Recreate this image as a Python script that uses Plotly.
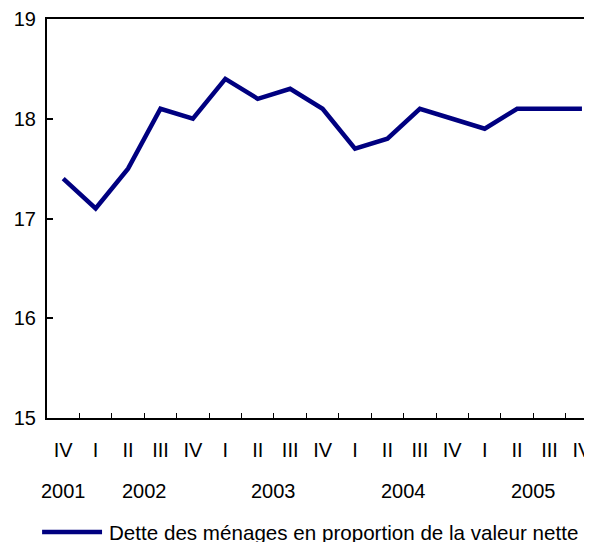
import plotly.graph_objects as go

quarters = ["IV", "I", "II", "III", "IV", "I", "II", "III", "IV",
            "I", "II", "III", "IV", "I", "II", "III", "IV"]
values = [17.4, 17.1, 17.5, 18.1, 18.0, 18.4, 18.2, 18.3, 18.1,
          17.7, 17.8, 18.1, 18.0, 17.9, 18.1, 18.1, 18.1]
years = ["2001", "2002", "2003", "2004", "2005"]
year_pos = [0, 2.5, 6.5, 10.5, 14.5]
y_ticks = [15, 16, 17, 18, 19]
series_name = "Dette des ménages en proportion de la valeur nette"
line_color = "#000080"

idx = list(range(len(values)))
bounds = [i + 0.5 for i in idx[:-1]]

fig = go.Figure()
fig.add_trace(go.Scatter(
    x=idx, y=values, mode="lines", name=series_name,
    line=dict(color=line_color, width=4.5),
))

font = dict(family="Liberation Sans, Arial, sans-serif", size=20, color="#000000")

# page body has an 8px default margin, so the figure is sized to fit the window
fig.update_layout(
    width=584, height=534,
    margin=dict(l=39, r=0, t=11, b=124, autoexpand=False),
    paper_bgcolor="white", plot_bgcolor="white",
    font=font,
    showlegend=False,
    xaxis=dict(
        range=[-0.5, 16.31], showgrid=False, zeroline=False, automargin=False,
        showline=True, linecolor="black", linewidth=2, mirror=True,
        tickmode="array", tickvals=idx, ticktext=quarters,
        ticks="", ticklabelstandoff=13, ticklabeloverflow="allow",
        minor=dict(tickmode="array", tickvals=bounds, ticks="inside",
                   ticklen=5, tickcolor="black", tickwidth=1),
    ),
    yaxis=dict(
        range=[15, 19], showgrid=False, zeroline=False, automargin=False,
        showline=True, linecolor="black", linewidth=2,
        tickmode="array", tickvals=y_ticks,
        ticks="inside", ticklen=6, tickcolor="black", tickwidth=2,
        ticklabelstandoff=5, ticklabeloverflow="allow",
    ),
)

for yr, pos in zip(years, year_pos):
    fig.add_annotation(x=pos, y=0, xref="x", yref="paper", text=yr,
                       showarrow=False, yanchor="middle", yshift=-73,
                       font=font)

# legend drawn by hand so its line sample is as long as in the reference
fig.add_shape(type="line", xref="paper", yref="paper",
              x0=-0.009, x1=0.101, y0=-0.286, y1=-0.286,
              line=dict(color=line_color, width=4.5))
fig.add_annotation(x=0.110, y=-0.286, xref="paper", yref="paper",
                   text=series_name, showarrow=False,
                   xanchor="left", yanchor="middle",
                   font=dict(font, size=20.6))

fig.write_html("out.html")
